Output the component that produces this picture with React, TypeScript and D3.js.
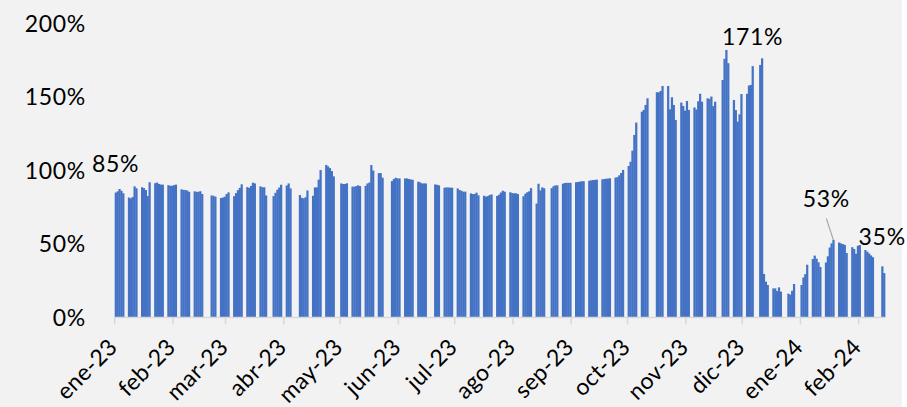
import * as d3 from "d3";

const width = 907;
const height = 407;

// weekday gaps (feriados) in the daily series
const holidays = [
  "2023-02-20", "2023-02-21", "2023-03-24", "2023-04-06", "2023-04-07",
  "2023-05-01", "2023-05-25", "2023-05-26", "2023-06-19", "2023-06-20",
  "2023-08-21", "2023-10-13", "2023-10-16", "2023-11-20", "2023-12-08",
  "2023-12-25", "2024-01-01", "2024-02-12", "2024-02-13",
];

// brecha diaria (%), one value per business day of each month
const ene23 = [85, 85.8, 87.4, 86.2, 84.5, 81.6, 81, 82, 89.2, 87.9, 88.6, 88, 86.7, 82.6, 92, 91.4, 91.8, 90.8, 90.4, 90.4, 90, 89.6];
const feb23 = [89.6, 90, 90.4, 87.2, 86.8, 86.7, 86.4, 85.5, 85.8, 85.5, 85.5, 85.9, 84, 83, 82.8, 82.2, 81.3, 81.6];
const mar23 = [82.2, 84, 85.1, 82.5, 84.6, 86.6, 88.2, 90.6, 88.7, 88.2, 89.5, 91.7, 91.2, 89.2, 88.6, 88.6, 83, 82.6, 84.8, 86.9, 88.4, 90.3];
const abr23 = [89.8, 91.2, 87.8, 83.3, 81.4, 81, 81.8, 86.4, 82.8, 88.5, 88.5, 93.8, 100.3, 103.8, 102.8, 101.6, 99.6, 96];
const may23 = [91.2, 90.8, 90.8, 91.3, 89, 89, 89.4, 89.9, 89.4, 89.6, 91.2, 91.8, 103.7, 100, 98.2, 98.2, 95.1, 92.8, 94.2, 95.1];
const jun23 = [94.6, 94.6, 94.6, 94.6, 94.2, 93.9, 93.7, 92.4, 91.9, 91.2, 91.2, 91.2, 90.5, 90.3, 89.9, 88.3, 88.5, 88.5, 88.3, 88.3];
const jul23 = [87.8, 86.7, 86.2, 85.6, 85.6, 84.4, 84, 84, 84.9, 83.1, 82.8, 82.2, 82.6, 83.3, 83.7, 82.7, 83.5, 85, 86.2, 85.6, 85.2];
const ago23 = [84.6, 84.5, 84.5, 84, 82.5, 84.2, 85.2, 85.8, 88, 77.5, 91, 86.5, 88.5, 87.9, 88, 89.3, 89.9, 89.9, 91, 91.5, 91.6, 91.6];
const sep23 = [91.6, 92, 92.2, 92.4, 92.7, 92.7, 93, 93.3, 93.5, 93.6, 93.8, 94, 94.2, 94.4, 94.5, 94.7, 95.2, 95.5, 96.7, 98.3, 100.4];
const oct23 = [103.1, 106, 113.5, 124.2, 132.6, 140, 141.2, 144.6, 149.1, 153.2, 153.2, 154.1, 157.5, 157.5, 141.6, 149.8, 144.6, 134.4, 146.2, 143.9];
const nov23 = [140.7, 147.3, 141.2, 142.9, 141.5, 147.1, 152.2, 146.8, 149.1, 148.7, 150.3, 143.8, 146.8, 161.6, 176, 182, 173, 148, 141.1, 133.2, 138.2];
const dic23 = [152, 152.2, 157.8, 158.2, 171, 171.8, 176.3, 29.6, 24.4, 22.1, 19.8, 19.8, 18, 20.5, 17.6, 16.2, 15.6, 18.2, 22.8];
const ene24 = [22.1, 27.2, 29.5, 35.9, 39.8, 42.1, 40, 37.6, 34.4, 37.4, 41.6, 47.6, 50.4, 52.8, 51, 50.4, 49.9, 49.4, 43.9, 47.8, 46.6, 43.4];
const feb24 = [48.8, 49.3, 45.9, 44.8, 43.5, 42.2, 41, 34.8, 30.2];

const monthKeys = ["2023-01", "2023-02", "2023-03", "2023-04", "2023-05", "2023-06", "2023-07", "2023-08", "2023-09", "2023-10", "2023-11", "2023-12", "2024-01", "2024-02"];
const monthValues = [ene23, feb23, mar23, abr23, may23, jun23, jul23, ago23, sep23, oct23, nov23, dic23, ene24, feb24];
const monthNames = ["ene", "feb", "mar", "abr", "may", "jun", "jul", "ago", "sep", "oct", "nov", "dic"];

const yTicks = [0, 50, 100, 150, 200];
const labelDates = ["2023-01-02", "2023-12-07", "2024-01-19", "2024-02-14"];
const labelTexts = ["85%", "171%", "53%", "35%"];

const firstDay = new Date(Date.UTC(2023, 0, 2));
const lastDay = new Date(Date.UTC(2024, 1, 15));
const isoDay = d3.utcFormat("%Y-%m-%d");
const isoMonth = d3.utcFormat("%Y-%m");

const businessDays = d3.utcDay
  .range(firstDay, d3.utcDay.offset(lastDay, 1))
  .filter((d) => d.getUTCDay() % 6 !== 0 && !holidays.includes(isoDay(d)));

const data = monthKeys.flatMap((key, i) => {
  const days = businessDays.filter((d) => isoMonth(d) === key);
  return days.map((date, j) => ({ date, value: monthValues[i][j] }));
});

const font = "Lato, 'Open Sans', sans-serif";
const fontSize = 23;
const spacing = 0.7;

export default function App() {
  const x = d3
    .scaleUtc()
    .domain([d3.utcDay.offset(firstDay, -1), lastDay])
    .range([114.7, 885]);
  const y = d3.scaleLinear().domain([0, 200]).range([317.5, 23.5]);
  const ticks = d3.utcMonth.range(d3.utcDay.offset(firstDay, -1), lastDay);

  const barLeft = (d: Date) => x(d3.utcDay.offset(d, -1));
  const barMid = (d: Date) => (barLeft(d) + x(d)) / 2;

  return (
    <>
      <style>{`body{margin:0}`}</style>
      <svg width={width} height={height} style={{ display: "block" }}>
        <rect x={0} y={0} width={902} height={height} fill="#f2f2f2" />
        <g>
          {data.map((d, i) => (
            <rect
              key={i}
              x={barLeft(d.date)}
              y={y(d.value)}
              width={x(d.date) - barLeft(d.date) + 0.35}
              height={y(0) - y(d.value)}
              fill="#4472c4"
            />
          ))}
        </g>
        <line x1={x.range()[0]} x2={x.range()[1]} y1={y(0)} y2={y(0)} stroke="#d9d9d9" strokeWidth={1.5} />
        {ticks.map((t, i) => (
          <g key={i}>
            <line x1={x(t)} x2={x(t)} y1={y(0)} y2={y(0) + 7} stroke="#d9d9d9" strokeWidth={1.5} />
            <text
              transform={`translate(${x(t) + 4},${y(0) + 31}) rotate(-45)`}
              textAnchor="end"
              fontFamily={font}
              fontSize={fontSize}
              letterSpacing={0.3}
              fill="#000"
            >
              {`${monthNames[t.getUTCMonth()]}-${d3.utcFormat("%y")(t)}`}
            </text>
          </g>
        ))}
        {yTicks.map((v) => (
          <text
            key={v}
            x={86}
            y={y(v)}
            dy="0.35em"
            textAnchor="end"
            fontFamily={font}
            fontSize={fontSize}
            letterSpacing={spacing}
            fill="#000"
          >
            {`${v}%`}
          </text>
        ))}
        {labelDates.map((ds, i) => {
          const p = data.find((d) => isoDay(d.date) === ds)!;
          const bx = barMid(p.date);
          const by = y(p.value);
          const leader = labelTexts[i] === "53%";
          const lx = leader ? bx - 7 : bx;
          const ly = leader ? by - 40.5 : by - 29;
          return (
            <g key={ds}>
              {leader && (
                <line x1={lx} y1={ly + 19} x2={bx} y2={by} stroke="#a6a6a6" strokeWidth={1.2} />
              )}
              <text
                x={lx}
                y={ly}
                dy="0.35em"
                textAnchor="middle"
                fontFamily={font}
                fontSize={fontSize}
                letterSpacing={spacing}
                fill="#000"
              >
                {labelTexts[i]}
              </text>
            </g>
          );
        })}
      </svg>
    </>
  );
}
